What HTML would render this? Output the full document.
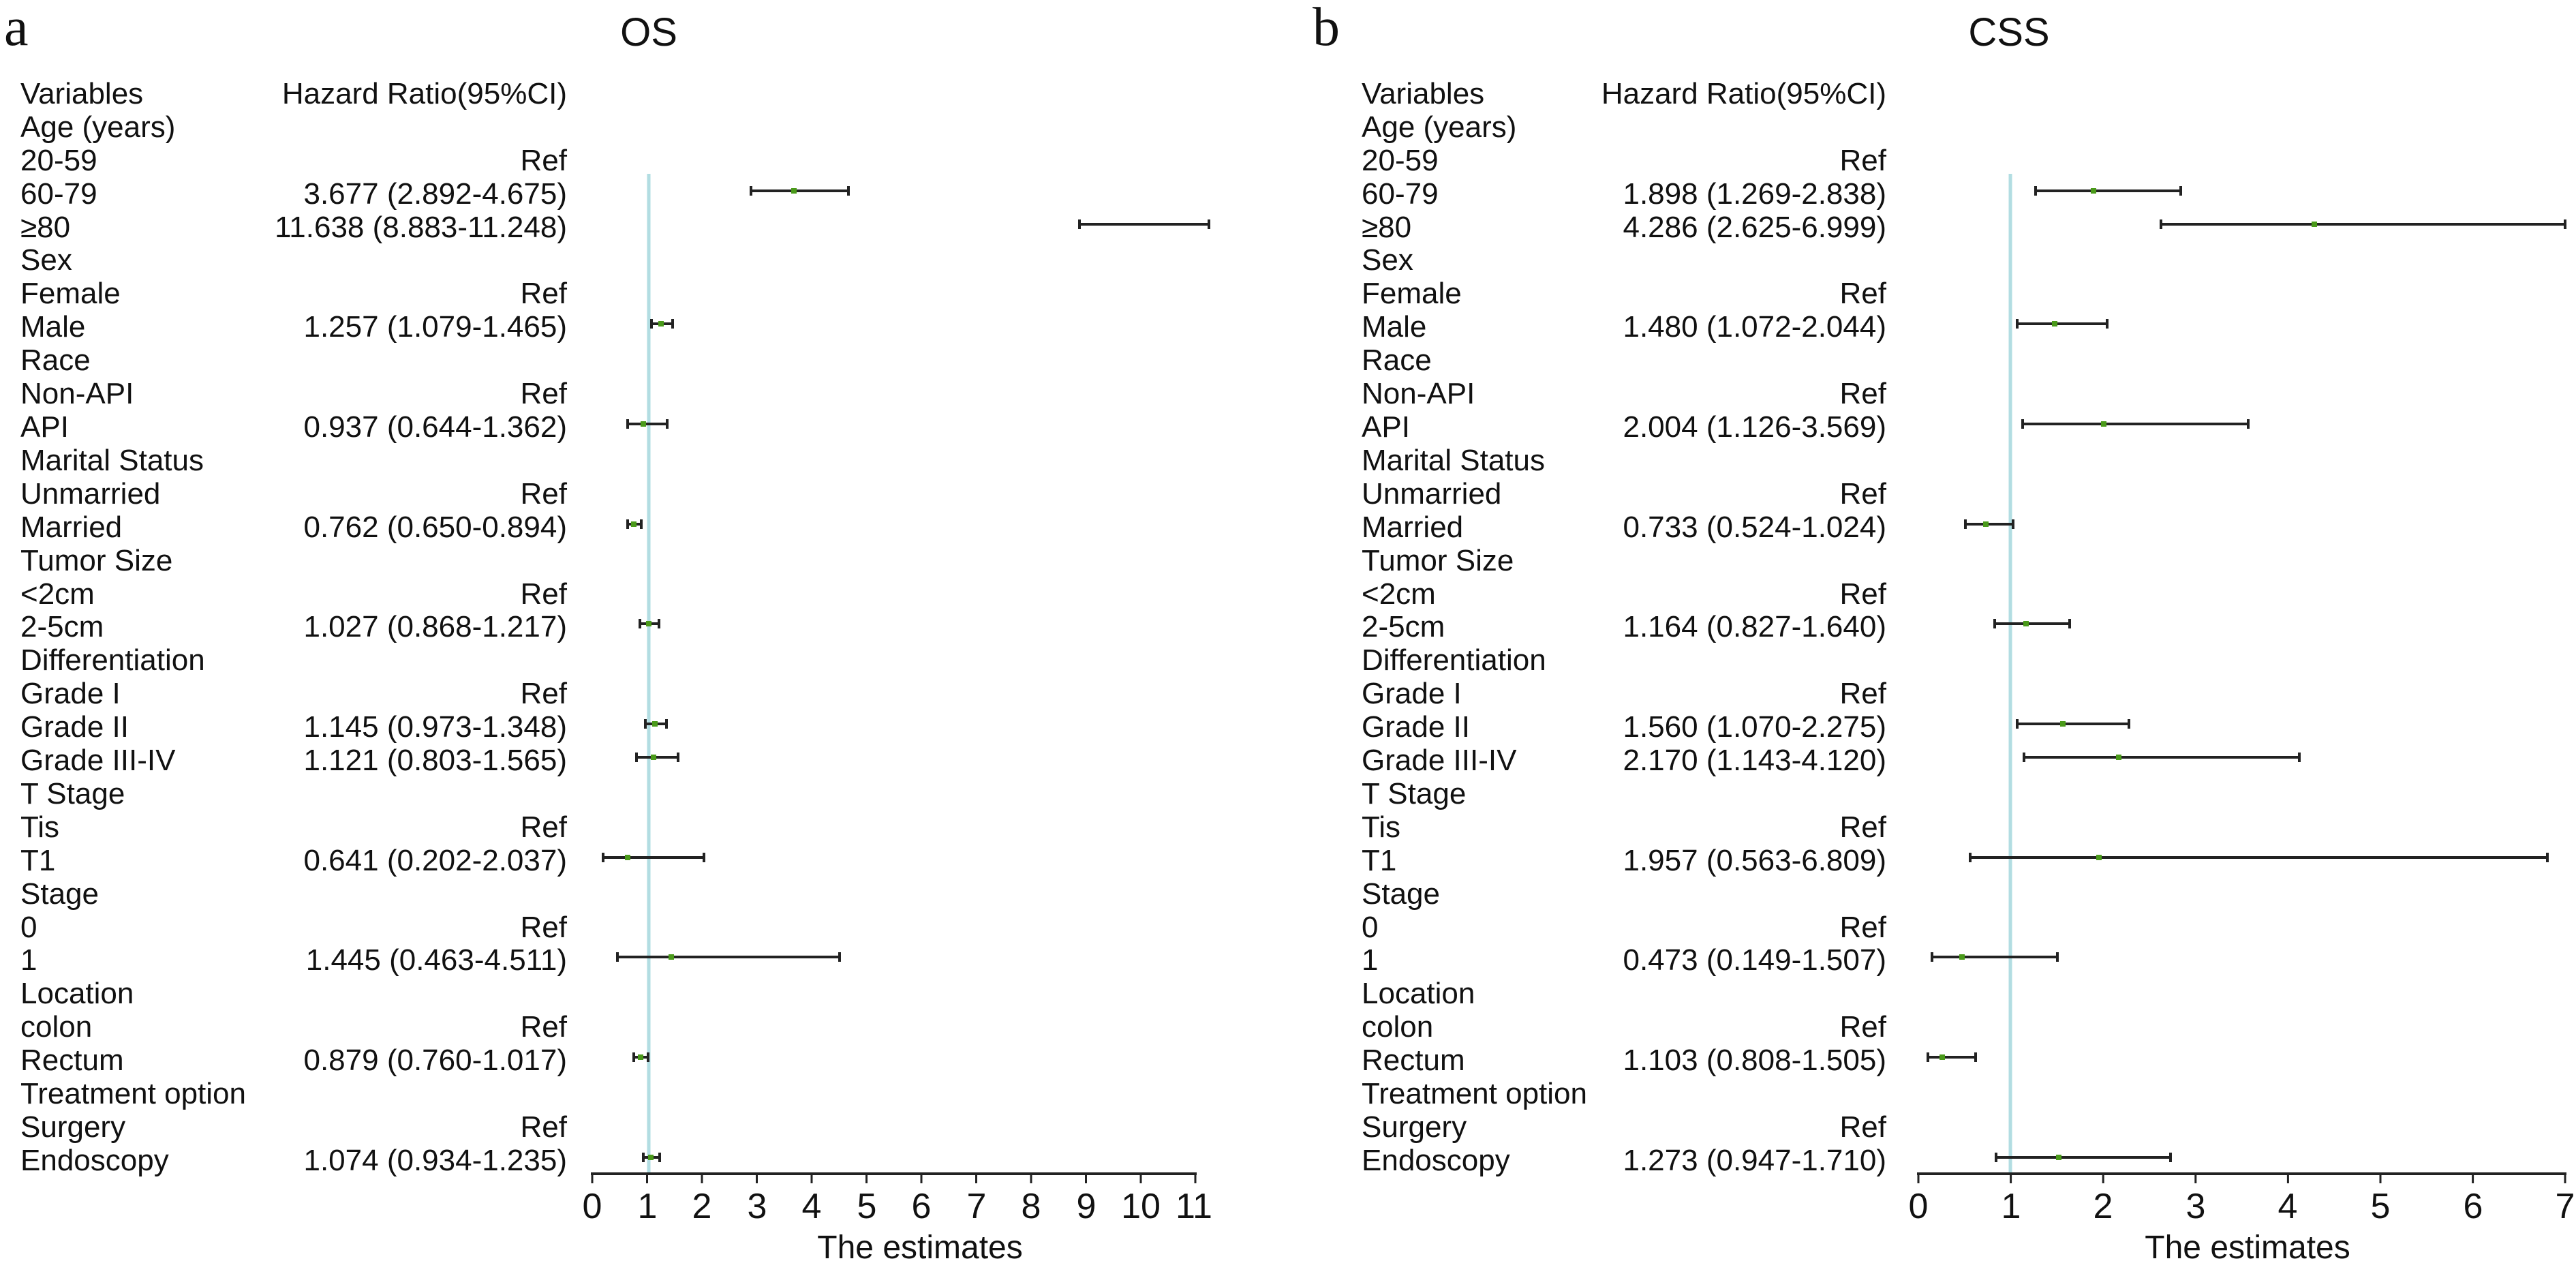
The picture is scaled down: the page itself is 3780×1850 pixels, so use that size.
<!DOCTYPE html>
<html><head><meta charset="utf-8"><style>
html,body{margin:0;padding:0;background:#fff;}
svg{display:block;}
text{font-family:"Liberation Sans",Arial,sans-serif;fill:#111;}
</style></head><body>
<svg width="3780" height="1850" viewBox="0 0 3780 1850" xmlns="http://www.w3.org/2000/svg">
<text x="6" y="66" style="font-family:'Liberation Serif',serif;font-size:80px">a</text>
<text x="952" y="67" font-size="58" text-anchor="middle">OS</text>
<text x="1926" y="66" style="font-family:'Liberation Serif',serif;font-size:80px">b</text>
<text x="2948" y="67" font-size="58" text-anchor="middle">CSS</text>

<g font-size="44">
<g id="la">
<text x="30" y="152">Variables</text>
<text x="30" y="201">Age (years)</text>
<text x="30" y="250">20-59</text>
<text x="30" y="299">60-79</text>
<text x="30" y="348">≥80</text>
<text x="30" y="396">Sex</text>
<text x="30" y="445">Female</text>
<text x="30" y="494">Male</text>
<text x="30" y="543">Race</text>
<text x="30" y="592">Non-API</text>
<text x="30" y="641">API</text>
<text x="30" y="690">Marital Status</text>
<text x="30" y="739">Unmarried</text>
<text x="30" y="788">Married</text>
<text x="30" y="837">Tumor Size</text>
<text x="30" y="886">&lt;2cm</text>
<text x="30" y="934">2-5cm</text>
<text x="30" y="983">Differentiation</text>
<text x="30" y="1032">Grade I</text>
<text x="30" y="1081">Grade II</text>
<text x="30" y="1130">Grade III-IV</text>
<text x="30" y="1179">T Stage</text>
<text x="30" y="1228">Tis</text>
<text x="30" y="1277">T1</text>
<text x="30" y="1326">Stage</text>
<text x="30" y="1375">0</text>
<text x="30" y="1423">1</text>
<text x="30" y="1472">Location</text>
<text x="30" y="1521">colon</text>
<text x="30" y="1570">Rectum</text>
<text x="30" y="1619">Treatment option</text>
<text x="30" y="1668">Surgery</text>
<text x="30" y="1717">Endoscopy</text>
</g>
<use href="#la" x="1968"/>
<g text-anchor="end">
<text x="832" y="152">Hazard Ratio(95%CI)</text>
<text x="832" y="250">Ref</text>
<text x="832" y="299">3.677 (2.892-4.675)</text>
<text x="832" y="348">11.638 (8.883-11.248)</text>
<text x="832" y="445">Ref</text>
<text x="832" y="494">1.257 (1.079-1.465)</text>
<text x="832" y="592">Ref</text>
<text x="832" y="641">0.937 (0.644-1.362)</text>
<text x="832" y="739">Ref</text>
<text x="832" y="788">0.762 (0.650-0.894)</text>
<text x="832" y="886">Ref</text>
<text x="832" y="934">1.027 (0.868-1.217)</text>
<text x="832" y="1032">Ref</text>
<text x="832" y="1081">1.145 (0.973-1.348)</text>
<text x="832" y="1130">1.121 (0.803-1.565)</text>
<text x="832" y="1228">Ref</text>
<text x="832" y="1277">0.641 (0.202-2.037)</text>
<text x="832" y="1375">Ref</text>
<text x="832" y="1423">1.445 (0.463-4.511)</text>
<text x="832" y="1521">Ref</text>
<text x="832" y="1570">0.879 (0.760-1.017)</text>
<text x="832" y="1668">Ref</text>
<text x="832" y="1717">1.074 (0.934-1.235)</text>

<text x="2768" y="152">Hazard Ratio(95%CI)</text>
<text x="2768" y="250">Ref</text>
<text x="2768" y="299">1.898 (1.269-2.838)</text>
<text x="2768" y="348">4.286 (2.625-6.999)</text>
<text x="2768" y="445">Ref</text>
<text x="2768" y="494">1.480 (1.072-2.044)</text>
<text x="2768" y="592">Ref</text>
<text x="2768" y="641">2.004 (1.126-3.569)</text>
<text x="2768" y="739">Ref</text>
<text x="2768" y="788">0.733 (0.524-1.024)</text>
<text x="2768" y="886">Ref</text>
<text x="2768" y="934">1.164 (0.827-1.640)</text>
<text x="2768" y="1032">Ref</text>
<text x="2768" y="1081">1.560 (1.070-2.275)</text>
<text x="2768" y="1130">2.170 (1.143-4.120)</text>
<text x="2768" y="1228">Ref</text>
<text x="2768" y="1277">1.957 (0.563-6.809)</text>
<text x="2768" y="1375">Ref</text>
<text x="2768" y="1423">0.473 (0.149-1.507)</text>
<text x="2768" y="1521">Ref</text>
<text x="2768" y="1570">1.103 (0.808-1.505)</text>
<text x="2768" y="1668">Ref</text>
<text x="2768" y="1717">1.273 (0.947-1.710)</text>
</g>
</g>

<!-- ref lines -->
<line x1="952" y1="255" x2="952" y2="1722" stroke="#b2dde2" stroke-width="5"/>
<line x1="2950" y1="255" x2="2950" y2="1722" stroke="#b2dde2" stroke-width="5"/>

<!-- axes -->
<g stroke="#222" stroke-width="4">
<line x1="867" y1="1722" x2="1756" y2="1722"/>
<line x1="2813" y1="1722" x2="3766" y2="1722"/>
<path d="M869 1722v14M949.5 1722v14M1030 1722v14M1110.5 1722v14M1191 1722v14M1271.5 1722v14M1352 1722v14M1432.5 1722v14M1513 1722v14M1593.5 1722v14M1674 1722v14M1754 1722v14" stroke-width="3"/>
<path d="M2815 1722v14M2950.6 1722v14M3086.2 1722v14M3221.8 1722v14M3357.4 1722v14M3493 1722v14M3628.6 1722v14M3764 1722v14" stroke-width="3"/>
</g>
<g font-size="52" text-anchor="middle">
<text x="869" y="1787">0</text><text x="950" y="1787">1</text><text x="1030" y="1787">2</text><text x="1111" y="1787">3</text><text x="1191" y="1787">4</text><text x="1272" y="1787">5</text><text x="1352" y="1787">6</text><text x="1433" y="1787">7</text><text x="1513" y="1787">8</text><text x="1594" y="1787">9</text><text x="1674" y="1787">10</text><text x="1752" y="1787">11</text>
<text x="2815" y="1787">0</text><text x="2951" y="1787">1</text><text x="3086" y="1787">2</text><text x="3222" y="1787">3</text><text x="3357" y="1787">4</text><text x="3493" y="1787">5</text><text x="3629" y="1787">6</text><text x="3764" y="1787">7</text>
</g>
<text x="1350" y="1846" font-size="48" text-anchor="middle">The estimates</text>
<text x="3298" y="1846" font-size="48" text-anchor="middle">The estimates</text>

<!-- series -->
<g id="bars" stroke="#222" stroke-width="4" fill="#4a9a1a">
<!-- panel a: x = 869 + 80.5 v -->
<path d="M1102 280H1245M1102 273v14M1245 273v14"/><rect x="1161" y="276" width="8" height="8" stroke="none"/>
<path d="M1584 329H1774M1584 322v14M1774 322v14"/>
<path d="M956 475H987M956 468v14M987 468v14"/><rect x="966" y="471" width="8" height="8" stroke="none"/>
<path d="M921 622H979M921 615v14M979 615v14"/><rect x="940" y="618" width="8" height="8" stroke="none"/>
<path d="M921 769H941M921 762v14M941 762v14"/><rect x="926" y="765" width="8" height="8" stroke="none"/>
<path d="M939 915H967M939 908v14M967 908v14"/><rect x="948" y="911" width="8" height="8" stroke="none"/>
<path d="M947 1062H978M947 1055v14M978 1055v14"/><rect x="957" y="1058" width="8" height="8" stroke="none"/>
<path d="M934 1111H995M934 1104v14M995 1104v14"/><rect x="955" y="1107" width="8" height="8" stroke="none"/>
<path d="M885 1258H1033M885 1251v14M1033 1251v14"/><rect x="917" y="1254" width="8" height="8" stroke="none"/>
<path d="M906 1404H1232M906 1397v14M1232 1397v14"/><rect x="981" y="1400" width="8" height="8" stroke="none"/>
<path d="M930 1551H951M930 1544v14M951 1544v14"/><rect x="936" y="1547" width="8" height="8" stroke="none"/>
<path d="M944 1698H968M944 1691v14M968 1691v14"/><rect x="951" y="1694" width="8" height="8" stroke="none"/>

<!-- panel b: x = 2815 + 135.6 v -->
<path d="M2987 280H3200M2987 273v14M3200 273v14"/><rect x="3068" y="276" width="8" height="8" stroke="none"/>
<path d="M3171 329H3764M3171 322v14M3764 322v14"/><rect x="3392" y="325" width="8" height="8" stroke="none"/>
<path d="M2960 475H3092M2960 468v14M3092 468v14"/><rect x="3011" y="471" width="8" height="8" stroke="none"/>
<path d="M2968 622H3299M2968 615v14M3299 615v14"/><rect x="3083" y="618" width="8" height="8" stroke="none"/>
<path d="M2884 769H2954M2884 762v14M2954 762v14"/><rect x="2910" y="765" width="8" height="8" stroke="none"/>
<path d="M2927 915H3037M2927 908v14M3037 908v14"/><rect x="2969" y="911" width="8" height="8" stroke="none"/>
<path d="M2960 1062H3124M2960 1055v14M3124 1055v14"/><rect x="3023" y="1058" width="8" height="8" stroke="none"/>
<path d="M2970 1111H3374M2970 1104v14M3374 1104v14"/><rect x="3105" y="1107" width="8" height="8" stroke="none"/>
<path d="M2891 1258H3738M2891 1251v14M3738 1251v14"/><rect x="3076" y="1254" width="8" height="8" stroke="none"/>
<path d="M2835 1404H3019M2835 1397v14M3019 1397v14"/><rect x="2875" y="1400" width="8" height="8" stroke="none"/>
<path d="M2829 1551H2899M2829 1544v14M2899 1544v14"/><rect x="2846" y="1547" width="8" height="8" stroke="none"/>
<path d="M2929 1698H3185M2929 1691v14M3185 1691v14"/><rect x="3017" y="1694" width="8" height="8" stroke="none"/>
</g>
</svg>
</body></html>
